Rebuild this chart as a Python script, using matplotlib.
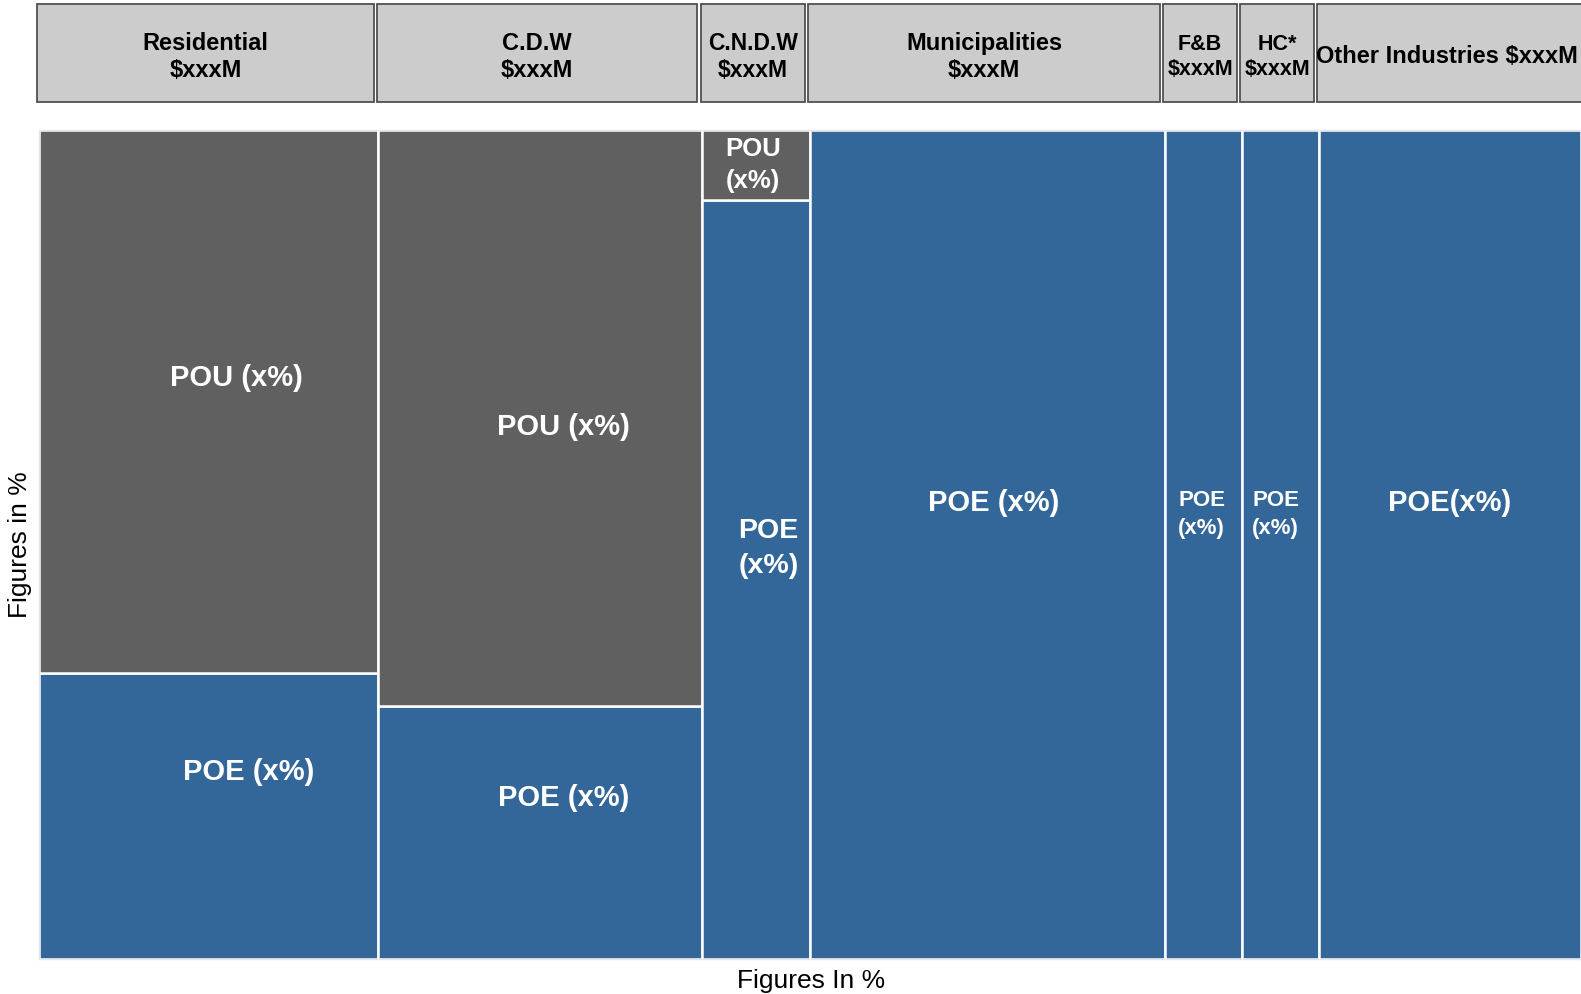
import numpy as np
import matplotlib
matplotlib.use("Agg")
import matplotlib.pyplot as plt
from matplotlib.patches import Rectangle

plt.rcParams.update({"font.family": ["Liberation Sans", "DejaVu Sans"]})

# ---------------------------------------------------------------------------
# Data (shares in %)
# ---------------------------------------------------------------------------
segments = ["Residential", "C.D.W", "C.N.D.W", "Municipalities",
            "F&B", "HC*", "Other Industries"]
header_text = ["Residential\n$xxxM", "C.D.W\n$xxxM", "C.N.D.W\n$xxxM",
               "Municipalities\n$xxxM", "F&B\n$xxxM", "HC*\n$xxxM",
               "Other Industries $xxxM"]
seg_width = [22, 21, 7, 23, 5, 5, 17]              # market share (x-axis)
poe_share = [34.5, 30.5, 91.5, 100, 100, 100, 100]  # POE share within segment
pou_share = [65.5, 69.5, 8.5, 0, 0, 0, 0]           # POU share within segment
poe_text = ["POE (x%)", "POE (x%)", "POE\n(x%)", "POE (x%)",
            "POE\n(x%)", "POE\n(x%)", "POE(x%)"]
pou_text = ["POU (x%)", "POU (x%)", "POU\n(x%)", "", "", "", ""]

# ---------------------------------------------------------------------------
# Styling / layout
# ---------------------------------------------------------------------------
COL_POE = "#336699"
COL_POU = "#606060"
COL_HDR = "#cccccc"

# label anchors, (x, y) in data units
poe_xy = [(13.6, 22.7), (34.0, 19.5), (47.3, 49.6), (61.9, 55.1),
          (75.4, 53.7), (80.2, 53.7), (91.5, 55.1)]
pou_xy = [(12.8, 70.2), (34.0, 64.3), (46.3, 95.9)]
poe_fs = [21, 21, 20.5, 21, 16, 16, 21]
pou_fs = [21, 21, 18.5]
hdr_fs = [17, 17, 16.5, 17, 15.5, 15.5, 17]

fig = plt.figure(figsize=(15.81, 9.95), dpi=100)
ax = fig.add_axes([39 / 1581, 1 - 960 / 995, 1 - 39 / 1581, (960 - 131) / 995])
hax = fig.add_axes([39 / 1581, 1 - 103 / 995, 1 - 39 / 1581, (103 - 5) / 995])

left = np.concatenate([[0], np.cumsum(seg_width)[:-1]])

for i in range(len(segments)):
    x0, w = left[i], seg_width[i]
    ax.add_patch(Rectangle((x0, 0), w, poe_share[i], facecolor=COL_POE,
                           edgecolor="white", lw=1.8))
    if pou_share[i] > 0:
        ax.add_patch(Rectangle((x0, poe_share[i]), w, pou_share[i],
                               facecolor=COL_POU, edgecolor="white", lw=1.8))
    tx, ty = poe_xy[i]
    ax.text(tx, ty, poe_text[i], color="white", fontsize=poe_fs[i],
            fontweight="bold", ha="center", va="center", linespacing=1.45)
    if pou_text[i]:
        tx, ty = pou_xy[i]
        ax.text(tx, ty, pou_text[i], color="white", fontsize=pou_fs[i],
                fontweight="bold", ha="center", va="center", linespacing=1.45)

    # header box
    hw = w - 0.2 if i < len(segments) - 1 else w + 1
    hax.add_patch(Rectangle((x0 - 0.1, 0.0), hw, 1.0, facecolor=COL_HDR,
                            edgecolor="#505050", lw=1.3, clip_on=False))
    hax.text(x0 + w / 2 - 0.2, 0.47, header_text[i], fontsize=hdr_fs[i],
             fontweight="bold", ha="center", va="center", linespacing=1.25)

ax.set_xlim(0, 100)
ax.set_ylim(0, 100)
ax.set_xticks([])
ax.set_yticks([])
for s in ax.spines.values():
    s.set_color("#e6e6e6")
    s.set_linewidth(1.0)

hax.set_xlim(0, 100)
hax.set_ylim(0, 1)
hax.axis("off")

fig.text(811 / 1581, 1 - 981 / 995, "Figures In %", fontsize=19,
         ha="center", va="center")
fig.text(20 / 1581, 1 - 545 / 995, "Figures in %", fontsize=19,
         ha="center", va="center", rotation=90)

fig.savefig("out.png", dpi=100)
